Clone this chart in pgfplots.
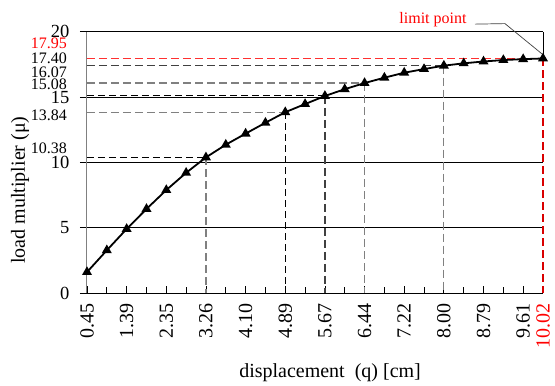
\documentclass[border=0pt]{standalone}
\usepackage{pgfplots}
\pgfplotsset{compat=1.18}
\usepackage{fontspec}
\setmainfont{Liberation Serif}
\definecolor{dgray}{HTML}{404040}
\definecolor{mgray}{HTML}{808080}
\definecolor{lred}{HTML}{FF3030}
\pgfplotstableread{
x y
0 1.60
1 3.27
2 4.90
3 6.43
4 7.88
5 9.20
6 10.38
7 11.35
8 12.20
9 13.03
10 13.84
11 14.46
12 15.08
13 15.60
14 16.07
15 16.48
16 16.86
17 17.14
18 17.40
19 17.58
20 17.72
21 17.83
22 17.90
23 17.95
}\curve
\begin{document}
\begin{tikzpicture}
\useasboundingbox (-87bp,-93bp) rectangle (468bp,293bp);
\begin{axis}[
 at={(0,0)}, anchor=south west,
 scale only axis, width=456bp, height=261.3bp,
 xmin=0, xmax=23, ymin=0, ymax=20,
 axis x line=bottom, axis y line=left, axis line style={-},
 y axis line style={mgray, line width=1bp},
 x axis line style={black, line width=1bp},
 xtick={0,2,4,6,8,10,12,14,16,18,20,22,23},
 minor xtick={1,3,5,7,9,11,13,15,17,19,21},
 xticklabels={0.45,1.39,2.35,3.26,4.10,4.89,5.67,6.44,7.22,8.00,8.79,9.61,\textcolor{red}{10.02}},
 xtick align=inside, ytick align=outside,
 major tick length=7bp, minor tick length=6bp,
 tick style={black, line width=0.8bp},
 ytick={0,5,10,15,20},
 ymajorgrids, major grid style={black, line width=0.8bp},
 xticklabel style={yshift=-7bp, rotate=90, anchor=east, font=\fontsize{20bp}{23bp}\selectfont},
 yticklabel style={xshift=-7bp, font=\fontsize{18.5bp}{22bp}\selectfont},
 /pgf/number format/assume math mode=true,
 clip=false,
 xlabel={displacement\ \ (q) [cm]},
 ylabel={load multiplier (μ)},
 xlabel style={font=\fontsize{20bp}{24bp}\selectfont, at={(axis description cs:0.533,-0.306)}, anchor=center},
 ylabel style={font=\fontsize{20bp}{24bp}\selectfont, at={(axis description cs:-0.147,0.394)}, anchor=center},
]
% dashed guide lines
\addplot[black, dash pattern=on 7bp off 4bp, line width=1bp] coordinates {(0,10.38) (6,10.38)};
\addplot[mgray, dash pattern=on 8bp off 4bp, line width=1.2bp] coordinates {(6,10.38) (6,0)};
\addplot[mgray, dash pattern=on 8bp off 4bp, line width=1.2bp] coordinates {(0,13.84) (10,13.84)};
\addplot[black, dash pattern=on 7bp off 4bp, line width=1bp] coordinates {(10,13.84) (10,0)};
\addplot[black, dash pattern=on 7bp off 4bp, line width=1bp] coordinates {(0,15.08) (12,15.08)};
\addplot[dgray, dash pattern=on 8bp off 4bp, line width=1.2bp] coordinates {(12,15.08) (12,0)};
\addplot[mgray, dash pattern=on 8bp off 4bp, line width=1.2bp] coordinates {(0,16.07) (14,16.07)};
\addplot[mgray, dash pattern=on 8bp off 4bp, line width=1.2bp] coordinates {(14,16.07) (14,0)};
\addplot[dgray, dash pattern=on 8bp off 4bp, line width=1.2bp] coordinates {(0,17.40) (18,17.40)};
\addplot[mgray, dash pattern=on 8bp off 4bp, line width=1.2bp] coordinates {(18,17.40) (18,0)};
\addplot[lred, dash pattern=on 8bp off 4bp, line width=1.2bp] coordinates {(0,17.95) (23,17.95)};
\addplot[red!85!black, dash pattern=on 8bp off 4bp, line width=1.2bp] coordinates {(23,17.95) (23,0)};
\addplot[black, line width=0.8bp] coordinates {(23,17.95) (23,20)};
% leader line for limit point
\addplot[dgray, line width=0.7bp] coordinates {(19.57,20.58) (21.08,20.62) (22.95,18.3)};
% curve
\addplot[black, line width=1.8bp, mark=triangle*, mark size=4bp, mark options={solid, fill=black}] table[x=x, y=y] {\curve};
% extra y labels
\node[anchor=east, inner sep=0pt, font=\fontsize{16bp}{19bp}\selectfont, text=red] at (axis cs:-1.0,19.13) {17.95};
\node[anchor=east, inner sep=0pt, font=\fontsize{16bp}{19bp}\selectfont] at (axis cs:-1.0,17.98) {17.40};
\node[anchor=east, inner sep=0pt, font=\fontsize{16bp}{19bp}\selectfont] at (axis cs:-1.0,16.91) {16.07};
\node[anchor=east, inner sep=0pt, font=\fontsize{16bp}{19bp}\selectfont] at (axis cs:-1.0,15.99) {15.08};
\node[anchor=east, inner sep=0pt, font=\fontsize{16bp}{19bp}\selectfont] at (axis cs:-1.0,13.62) {13.84};
\node[anchor=east, inner sep=0pt, font=\fontsize{16bp}{19bp}\selectfont] at (axis cs:-1.0,11.09) {10.38};
\node[font=\fontsize{16bp}{19bp}\selectfont, text=red] at (axis cs:17.45,20.89) {limit point};
\end{axis}
\end{tikzpicture}
\end{document}
